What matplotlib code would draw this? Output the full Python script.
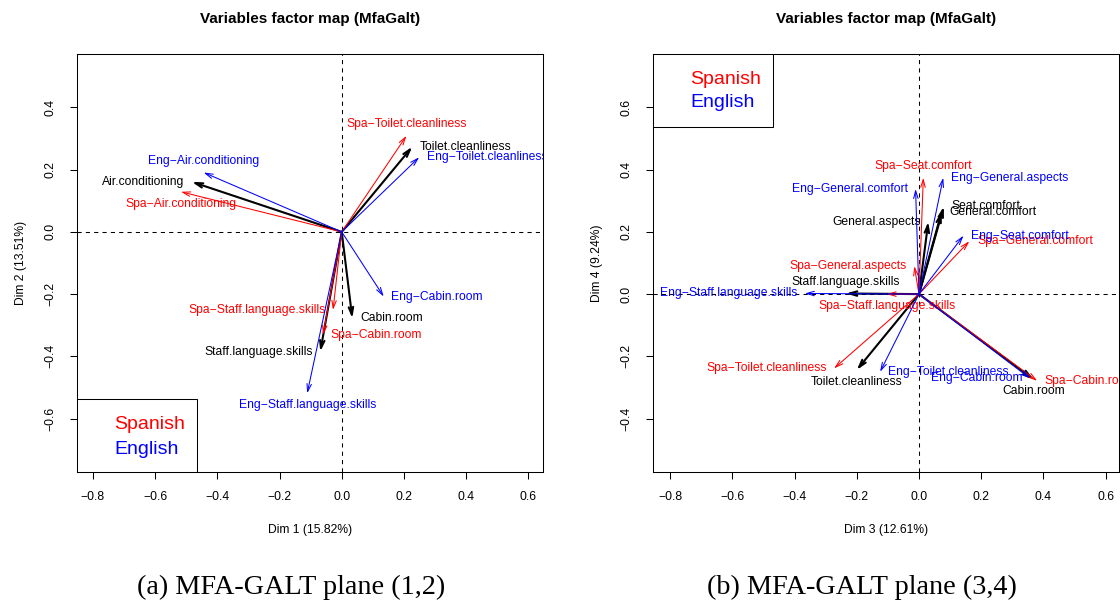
"""Variables factor map (MfaGalt) - planos (1,2) y (3,4)"""

import matplotlib
matplotlib.use("Agg")
from matplotlib import pyplot as plt
from matplotlib.patches import Rectangle
from matplotlib.transforms import ScaledTranslation

plt.rcParams['font.family'] = ['Liberation Sans', 'DejaVu Sans']

# ---- plano (1,2) ----
vars_12 = ["Air.conditioning", "Toilet.cleanliness", "Cabin.room", "Staff.language.skills"]
glob_d1 = [-0.482, 0.227, 0.034, -0.069]
glob_d2 = [0.161, 0.274, -0.278, -0.385]
spa_d1 = [-0.517, 0.208, -0.060, -0.028]
spa_d2 = [0.129, 0.309, -0.331, -0.251]
eng_d1 = [-0.444, 0.249, 0.135, -0.111]
eng_d2 = [0.191, 0.240, -0.208, -0.519]

# ---- plano (3,4) ----
vars_34 = ["Seat.comfort", "General.comfort", "General.aspects",
           "Staff.language.skills", "Toilet.cleanliness", "Cabin.room"]
glob_d3 = [0.080, 0.073, 0.030, -0.235, -0.200, 0.368]
glob_d4 = [0.282, 0.265, 0.233, 0.002, -0.244, -0.274]
spa_d3 = [0.014, 0.162, -0.015, -0.104, -0.273, 0.380]
spa_d4 = [0.374, 0.170, 0.090, 0.000, -0.239, -0.279]
eng_d3 = [0.143, -0.011, 0.078, -0.367, -0.125, 0.357]
eng_d4 = [0.188, 0.338, 0.374, 0.002, -0.250, -0.271]

ticks_x = [-0.8, -0.6, -0.4, -0.2, 0.0, 0.2, 0.4, 0.6]
ticks_y12 = [-0.6, -0.4, -0.2, 0.0, 0.2, 0.4]
ticks_y34 = [-0.4, -0.2, 0.0, 0.2, 0.4, 0.6]

# donde va cada etiqueta respecto a la punta de la flecha
pos_12 = {"glob": ["left", "right", "right", "left"],
          "spa": ["below", "above", "right", "left"],
          "eng": ["above", "right", "right", "below"]}
pos_34 = {"glob": ["right", "right", "left", "above", "below", "below"],
          "spa": ["above", "right", "left", "below", "left", "right"],
          "eng": ["right", "left", "right", "left", "right", "left"]}

OFFS = {"left": (-5.5, 0, "right"), "right": (5.5, 0, "left"),
        "above": (0, 8.6, "center"), "below": (0, -8.6, "center")}

fig = plt.figure(figsize=(11.2, 6.01), dpi=100)


def fmt(v):
    return ("%.1f" % v).replace("-", "\u2212")


def flechas(ax, nombres, xs, ys, prefijo, color, lw, posiciones):
    for nom, x, y, p in zip(nombres, xs, ys, posiciones):
        ax.annotate("", xy=(x, y), xytext=(0, 0),
                    arrowprops=dict(arrowstyle="->,head_length=0.55,head_width=0.16",
                                    color=color, lw=lw, shrinkA=0, shrinkB=0,
                                    mutation_scale=10))
        dx, dy, ha = OFFS[p]
        tr = ax.transData + ScaledTranslation(dx / 72, dy / 72, fig.dpi_scale_trans)
        etiqueta = (prefijo + nom).replace("-", "\u2212")
        ax.text(x, y, etiqueta, transform=tr, ha=ha, va="center",
                color=color, fontsize=8.7, clip_on=True)


def panel(rect, xlim, ylim, yticks, xlab, ylab, datos, posiciones, leyenda_arriba):
    ax = fig.add_axes(rect)
    ax.set_xlim(*xlim)
    ax.set_ylim(*ylim)
    ax.axhline(0, color="black", lw=0.75, ls=(0, (4, 4)))
    ax.axvline(0, color="black", lw=0.75, ls=(0, (4, 4)))

    nombres, gx, gy, sx, sy, ex, ey = datos
    flechas(ax, nombres, gx, gy, "", "black", 1.5, posiciones["glob"])
    flechas(ax, nombres, sx, sy, "Spa-", "red", 0.75, posiciones["spa"])
    flechas(ax, nombres, ex, ey, "Eng-", "blue", 0.75, posiciones["eng"])

    ax.set_xticks(ticks_x, labels=[fmt(t) for t in ticks_x])
    ax.set_yticks(yticks, labels=[fmt(t) for t in yticks])
    ax.tick_params(length=5, width=0.75, labelsize=8.7, pad=9)
    ax.tick_params(axis="y", labelrotation=90, pad=9.5)
    for lab in ax.get_yticklabels():
        lab.set_va("center")
    for s in ax.spines.values():
        s.set_linewidth(0.75)

    ax.set_xlabel(xlab, fontsize=8.7)
    ax.xaxis.set_label_coords(0.5, -0.138)
    ax.xaxis.label.set_va("center")
    ax.set_ylabel(ylab, fontsize=8.7)
    ax.yaxis.set_label_coords(-0.12, 0.5)
    ax.yaxis.label.set_va("center")
    ax.text(0.5, 1.084, "Variables factor map (MfaGalt)", transform=ax.transAxes,
            ha="center", va="center", fontsize=11, fontweight="bold")

    # leyenda a mano, como en R
    if leyenda_arriba:
        y0, ys_, ye_ = 1 - 0.1746, 0.940, 0.883
    else:
        y0, ys_, ye_ = 0.0, 0.1148, 0.055
    ax.add_patch(Rectangle((0, y0), 0.258, 0.1746, transform=ax.transAxes,
                           facecolor="white", edgecolor="black", lw=0.75, zorder=5))
    ax.text(0.0794, ys_, "Spanish", color="red", fontsize=14, va="center",
            transform=ax.transAxes, zorder=6)
    ax.text(0.0794, ye_, "English", color="blue", fontsize=14, va="center",
            transform=ax.transAxes, zorder=6)
    return ax


w, h = 466 / 1120, 418 / 601
panel([77 / 1120, 129 / 601, w, h], (-0.851, 0.647), (-0.772, 0.572), ticks_y12,
      "Dim 1 (15.82%)", "Dim 2 (13.51%)",
      (vars_12, glob_d1, glob_d2, spa_d1, spa_d2, eng_d1, eng_d2), pos_12, False)
panel([653 / 1120, 129 / 601, w, h], (-0.855, 0.643), (-0.572, 0.772), ticks_y34,
      "Dim 3 (12.61%)", "Dim 4 (9.24%)",
      (vars_34, glob_d3, glob_d4, spa_d3, spa_d4, eng_d3, eng_d4), pos_34, True)

fig.text(291 / 1120, 1 - 594 / 601, "(a) MFA-GALT plane (1,2)", ha="center",
         va="baseline", fontsize=20.3, family="Liberation Serif")
fig.text(862 / 1120, 1 - 594 / 601, "(b) MFA-GALT plane (3,4)", ha="center",
         va="baseline", fontsize=20.3, family="Liberation Serif")

fig.savefig("out.png", dpi=100)
